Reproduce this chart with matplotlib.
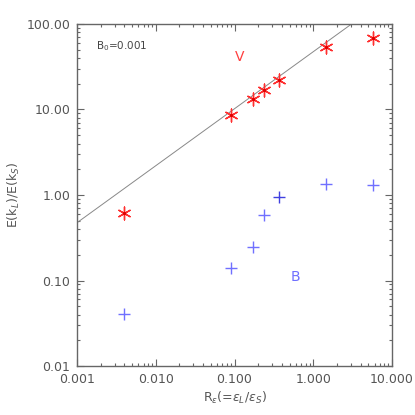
import matplotlib
matplotlib.use('Agg')
import matplotlib.pyplot as plt
from matplotlib.ticker import FixedLocator, LogLocator, NullFormatter
import numpy as np

# ratio R_eps and energy ratios
r_eps = [0.0039, 0.090, 0.173, 0.237, 0.371, 1.44, 5.69]
e_v = [0.61, 8.6, 13.3, 16.9, 22.1, 54.0, 68.0]
e_b = [0.041, 0.139, 0.244, 0.583, 0.94, 1.36, 1.30]

# fitted line, slope 2/3
line_x = [0.001, 10.0]
line_amp = 47.4

xticks = [0.001, 0.01, 0.1, 1.0, 10.0]
xlabels = ['0.001', '0.010', '0.100', '1.000', '10.000']
yticks = [0.01, 0.1, 1.0, 10.0, 100.0]
ylabels = ['0.01', '0.10', '1.00', '10.00', '100.00']

gray = '#666666'
plt.rcParams['font.family'] = 'DejaVu Sans'
plt.rcParams['font.size'] = 8

fig = plt.figure(figsize=(4.15, 4.15), dpi=100)
ax = fig.add_axes([77/415, 1 - 366/415, (392-77)/415, (366-24)/415])

lx = np.array(line_x)
ax.plot(lx, line_amp * lx**(2/3), color='#888888', lw=0.7)

ax.scatter(r_eps, e_v, marker=(6, 2, 0), s=85, color='#ff3030', lw=1.0, zorder=3)
ax.scatter(r_eps, e_v, marker='.', s=8, color='#e00000', zorder=4)
bcol = ['#7070ff'] * 4 + ['#4040e0'] + ['#7070ff'] * 2
ax.scatter(r_eps, e_b, marker='+', s=75, color=bcol, lw=1.0, zorder=3)

ax.set_xscale('log')
ax.set_yscale('log')
ax.set_xlim(0.001, 10.0)
ax.set_ylim(0.01, 100.0)

ax.xaxis.set_major_locator(FixedLocator(xticks))
ax.set_xticklabels(xlabels)
ax.yaxis.set_major_locator(FixedLocator(yticks))
ax.set_yticklabels(ylabels)
ax.xaxis.set_minor_locator(LogLocator(base=10, subs=np.arange(2, 10), numticks=20))
ax.yaxis.set_minor_locator(LogLocator(base=10, subs=np.arange(2, 10), numticks=20))
ax.xaxis.set_minor_formatter(NullFormatter())
ax.yaxis.set_minor_formatter(NullFormatter())

ax.tick_params(which='both', direction='in', top=True, right=True, colors=gray,
               labelcolor='#555555', labelsize=9, width=0.8)
ax.tick_params(which='major', length=5, pad=5)
ax.tick_params(which='minor', length=2.5)
for s in ax.spines.values():
    s.set_color(gray)
    s.set_linewidth(1.0)

ax.set_xlabel(r'R$_\epsilon$(=$\epsilon_L$/$\epsilon_S$)', color='#555555', fontsize=9, labelpad=3)
ax.set_ylabel(r'E(k$_L$)/E(k$_S$)', color='#555555', fontsize=9, labelpad=3)

ax.text(95.7/415, 1 - 46/415, r'B$_0$=0.001', transform=fig.transFigure, color='#444444',
        fontsize=7.5, ha='left', va='center')
ax.text(240/415, 1 - 57/415, 'V', transform=fig.transFigure, color='#ff4040',
        fontsize=10, ha='center', va='center')
ax.text(295/415, 1 - 277/415, 'B', transform=fig.transFigure, color='#7070ff',
        fontsize=10, ha='center', va='center')

fig.savefig('out.png', dpi=100)
